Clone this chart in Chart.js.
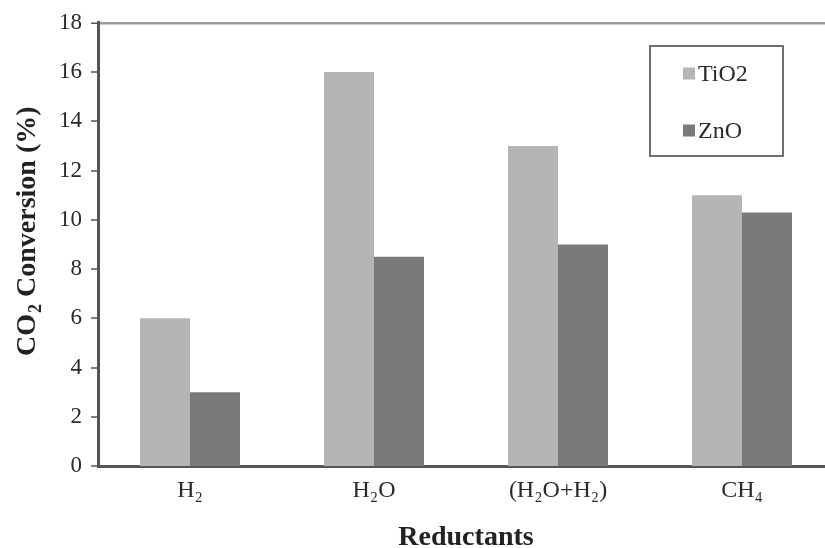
<!DOCTYPE html>
<html>
<head>
<meta charset="utf-8">
<script src="https://cdn.jsdelivr.net/npm/chart.js@4"></script>
<style>
  html, body { margin: 0; padding: 0; background: #fff; overflow: hidden; }
  #wrap { width: 825px; height: 548px; overflow: hidden; }
  canvas { display: block; }
</style>
</head>
<body>
<div id="wrap"><canvas id="chart" width="840" height="548"></canvas></div>
<script>
// Reductant categories and CO2 conversion (%) for each photocatalyst
const categories = ['H₂', 'H₂O', '(H₂O+H₂)', 'CH₄'];
const seriesNames = ['TiO2', 'ZnO'];
const tio2Values = [6, 16, 13, 11];
const znoValues = [3, 8.5, 9, 10.3];
const yTicks = [0, 2, 4, 6, 8, 10, 12, 14, 16, 18];
const xTitle = 'Reductants';
const yTitleParts = ['CO', '2', ' Conversion (%)'];

const SERIF = '"Liberation Serif", "Times New Roman", serif';
const colors = ['#b5b5b5', '#7a7a7a'];

// Boxed legend drawn inside the plot area, top right
const boxLegend = {
  id: 'boxLegend',
  afterDraw(chart) {
    const ctx = chart.ctx;
    ctx.save();
    ctx.strokeStyle = '#707070';
    ctx.lineWidth = 2;
    ctx.strokeRect(650, 46, 133, 110);
    ctx.font = '24px ' + SERIF;
    ctx.textBaseline = 'middle';
    ctx.textAlign = 'left';
    const rows = [73.5, 130.5];
    chart.data.datasets.forEach((ds, i) => {
      ctx.fillStyle = ds.backgroundColor;
      ctx.fillRect(683, rows[i] - 6, 12, 12);
      ctx.fillStyle = '#2a2a2a';
      ctx.fillText(ds.label, 698, rows[i] + 1);
    });
    ctx.restore();
  }
};

// Vertical axis title with a subscripted digit
const yAxisTitle = {
  id: 'yAxisTitle',
  afterDraw(chart) {
    const ctx = chart.ctx;
    ctx.save();
    ctx.translate(35, 356);
    ctx.rotate(-Math.PI / 2);
    ctx.fillStyle = '#222';
    ctx.textBaseline = 'alphabetic';
    ctx.textAlign = 'left';
    const big = 'bold 28px ' + SERIF;
    const small = 'bold 18px ' + SERIF;
    let x = 0;
    ctx.font = big;
    ctx.fillText(yTitleParts[0], x, 0);
    x += ctx.measureText(yTitleParts[0]).width;
    ctx.font = small;
    ctx.fillText(yTitleParts[1], x + 1, 6);
    x += ctx.measureText(yTitleParts[1]).width + 1;
    ctx.font = big;
    ctx.fillText(yTitleParts[2], x, 0);
    ctx.restore();
  }
};

new Chart(document.getElementById('chart'), {
  type: 'bar',
  data: {
    labels: categories,
    datasets: [
      { label: seriesNames[0], data: tio2Values, backgroundColor: colors[0] },
      { label: seriesNames[1], data: znoValues, backgroundColor: colors[1] }
    ]
  },
  options: {
    responsive: false,
    animation: false,
    devicePixelRatio: 1,
    layout: { padding: { top: 21, right: 6, left: 0, bottom: 0 } },
    datasets: {
      bar: { categoryPercentage: 0.5435, barPercentage: 1.0, borderWidth: 0 }
    },
    plugins: {
      legend: { display: false },
      tooltip: { enabled: false }
    },
    scales: {
      x: {
        grid: { display: false, drawTicks: false },
        border: { display: true, color: '#555', width: 3 },
        ticks: {
          color: '#2a2a2a',
          font: { family: SERIF, size: 24 },
          padding: 10
        },
        title: {
          display: true,
          text: xTitle,
          color: '#222',
          font: { family: SERIF, size: 28, weight: 'bold', lineHeight: 0.7 },
          padding: { top: 0, bottom: 0 }
        },
        afterFit(scale) { scale.height = 82; }
      },
      y: {
        min: 0,
        max: 18,
        afterBuildTicks(scale) { scale.ticks = yTicks.map(v => ({ value: v })); },
        grid: {
          drawOnChartArea: true,
          drawTicks: true,
          tickLength: 7,
          tickWidth: 1.5,
          tickColor: '#555',
          lineWidth: ctx => (ctx.tick && ctx.tick.value === 18 ? 2.5 : 0),
          color: ctx => (ctx.tick && ctx.tick.value === 18 ? '#9a9a9a' : 'rgba(0,0,0,0)')
        },
        border: { display: true, color: '#555', width: 3 },
        ticks: {
          color: '#2a2a2a',
          font: { family: SERIF, size: 23 },
          padding: 9
        },
        afterFit(scale) { scale.width = 98; }
      }
    }
  },
  plugins: [boxLegend, yAxisTitle]
});
</script>
</body>
</html>
